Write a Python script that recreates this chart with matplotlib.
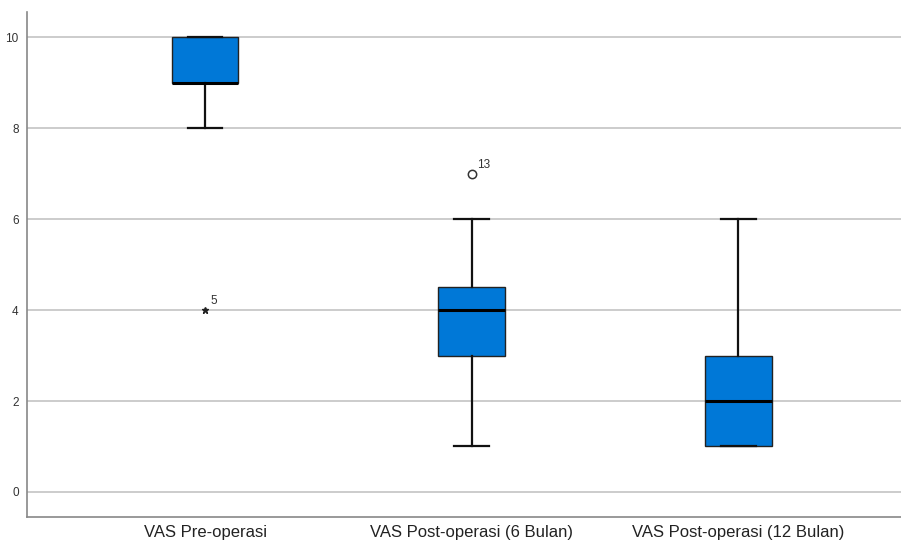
import matplotlib
matplotlib.use("Agg")
import matplotlib.pyplot as plt

plt.rcParams['font.family'] = ['Liberation Sans', 'DejaVu Sans']

# VAS scores summarised per time point (SPSS-style boxplot)
groups = ["VAS Pre-operasi", "VAS Post-operasi (6 Bulan)", "VAS Post-operasi (12 Bulan)"]
q1 = [9, 3, 1]
median = [9, 4, 2]
q3 = [10, 4.5, 3]
whislo = [8, 1, 1]
whishi = [10, 6, 6]
# outliers: (value, case number, kind)
outliers = [[(4, "5", "extreme")], [(7, "13", "mild")], []]

box_color = "#0078D7"

fig = plt.figure(figsize=(9.01, 5.4), dpi=100)
ax = fig.add_axes([0.030, 0.0426, 0.97, 0.935])

stats = []
for i, g in enumerate(groups):
    stats.append(dict(label=g, q1=q1[i], med=median[i], q3=q3[i],
                      whislo=whislo[i], whishi=whishi[i], fliers=[]))

ax.bxp(stats, positions=[1, 2, 3], widths=0.25, patch_artist=True,
       showfliers=False,
       boxprops=dict(facecolor=box_color, edgecolor="#222222", linewidth=1.0),
       medianprops=dict(color="black", linewidth=2.2),
       whiskerprops=dict(color="#111111", linewidth=1.6),
       capprops=dict(color="#111111", linewidth=1.6),
       capwidths=0.13, zorder=3)

for i, pts in enumerate(outliers):
    for val, case, kind in pts:
        if kind == "extreme":
            ax.plot(i + 1, val, marker="*", color="#222222", markersize=5, zorder=4)
        else:
            ax.plot(i + 1, val, marker="o", markerfacecolor="white",
                    markeredgecolor="#333333", markersize=6, markeredgewidth=1.1, zorder=4)
        ax.annotate(case, (i + 1, val), xytext=(4, 4), textcoords="offset points",
                    fontsize=8.5, color="#333333", zorder=5)

ax.set_ylim(-0.55, 10.55)
ax.set_xlim(0.332, 3.61)
ax.set_yticks([0, 2, 4, 6, 8, 10])
ax.set_xticks([1, 2, 3])
ax.set_xticklabels(groups, fontsize=12, color="#222222")
ax.tick_params(axis="y", length=0, labelsize=8.5, labelcolor="#333333", pad=6)
ax.tick_params(axis="x", length=0, pad=6)

ax.yaxis.grid(True, color="#cccccc", linewidth=1.4, zorder=0)
ax.set_axisbelow(True)
for side in ["top", "right"]:
    ax.spines[side].set_visible(False)
for side in ["left", "bottom"]:
    ax.spines[side].set_color("#888888")
    ax.spines[side].set_linewidth(1.2)

fig.savefig("out.png", dpi=100)
